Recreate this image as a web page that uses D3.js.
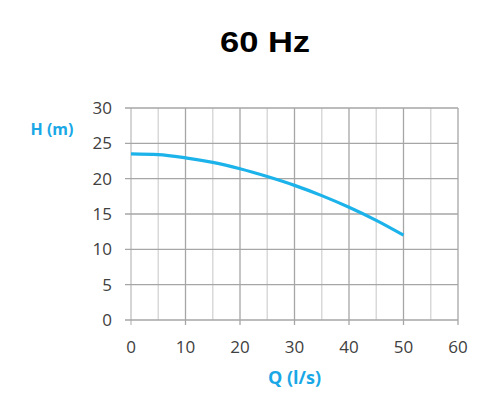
<!DOCTYPE html>
<html>
<head>
<meta charset="utf-8">
<script src="https://cdn.jsdelivr.net/npm/d3@7"></script>
<style>
  body { margin: 0; background: #fff; }
  svg { display: block; }
</style>
</head>
<body>
<div id="chart"></div>
<script>
// Pump curve data
const flowQ = [0, 5, 10, 15, 20, 25, 30, 35, 40, 45, 50];
const headH = [23.5, 23.4, 22.95, 22.3, 21.4, 20.3, 19.05, 17.6, 15.95, 14.1, 12.0];
const xTicks = [0, 10, 20, 30, 40, 50, 60];
const xMinor = [5, 15, 25, 35, 45, 55];
const yTicks = [0, 5, 10, 15, 20, 25, 30];

const W = 500, H = 396;
const margin = {top: 108, right: 42, bottom: 76, left: 131};
const width = W - margin.left - margin.right;
const height = H - margin.top - margin.bottom;

const svg = d3.select("#chart").append("svg")
    .attr("width", W)
    .attr("height", H);

const g = svg.append("g")
    .attr("transform", `translate(${margin.left},${margin.top})`);

const x = d3.scaleLinear().domain([0, 60]).range([0, width]);
const y = d3.scaleLinear().domain([0, 30]).range([height, 0]);

// Minor vertical grid lines
g.selectAll(".minor")
    .data(xMinor)
    .enter().append("line")
    .attr("x1", d => x(d)).attr("x2", d => x(d))
    .attr("y1", 0).attr("y2", height)
    .attr("stroke", "#d9d9d9")
    .attr("stroke-width", 1.5);

// Major vertical grid lines + ticks
g.selectAll(".major")
    .data(xTicks)
    .enter().append("line")
    .attr("x1", d => x(d)).attr("x2", d => x(d))
    .attr("y1", 0).attr("y2", height + 5)
    .attr("stroke", d => d === 0 ? "#bfbfbf" : "#a6a6a6")
    .attr("stroke-width", 1.3);

// Horizontal grid lines
g.selectAll(".hgrid")
    .data(yTicks)
    .enter().append("line")
    .attr("x1", -6).attr("x2", width)
    .attr("y1", d => y(d)).attr("y2", d => y(d))
    .attr("stroke", "#a6a6a6")
    .attr("stroke-width", 1.3);

// Tick labels
g.selectAll(".xlab")
    .data(xTicks)
    .enter().append("text")
    .attr("x", d => x(d))
    .attr("y", height + 33)
    .attr("text-anchor", "middle")
    .style("font-family", "'Open Sans', sans-serif")
    .style("font-size", "17px")
    .style("fill", "#404040")
    .text(d => d);

g.selectAll(".ylab")
    .data(yTicks)
    .enter().append("text")
    .attr("x", -19)
    .attr("y", d => y(d))
    .attr("dy", "0.35em")
    .attr("text-anchor", "end")
    .style("font-family", "'Open Sans', sans-serif")
    .style("font-size", "17px")
    .style("fill", "#404040")
    .text(d => d);

// Curve
const line = d3.line()
    .x((d, i) => x(flowQ[i]))
    .y(d => y(d))
    .curve(d3.curveMonotoneX);

g.append("path")
    .datum(headH)
    .attr("fill", "none")
    .attr("stroke", "#1cb2ea")
    .attr("stroke-width", 3.2)
    .attr("d", line);

// Axis titles
svg.append("text")
    .attr("x", 52)
    .attr("y", 135)
    .attr("text-anchor", "middle")
    .style("font-family", "'Open Sans', sans-serif")
    .style("font-weight", "bold")
    .style("font-size", "16px")
    .style("fill", "#1aa7e6")
    .text("H (m)");

svg.append("text")
    .attr("x", margin.left + x(30))
    .attr("y", 384)
    .attr("text-anchor", "middle")
    .style("font-family", "'Open Sans', sans-serif")
    .style("font-weight", "bold")
    .style("font-size", "18px")
    .style("fill", "#1aa7e6")
    .text("Q (l/s)");

// Title (glyphs are a bit wide in the original)
svg.append("text")
    .attr("transform", "translate(265,52) scale(1.15,1)")
    .attr("text-anchor", "middle")
    .style("font-family", "'Liberation Sans', Arial, sans-serif")
    .style("font-weight", "bold")
    .style("font-size", "30px")
    .style("fill", "#000")
    .text("60 Hz");
</script>
</body>
</html>
